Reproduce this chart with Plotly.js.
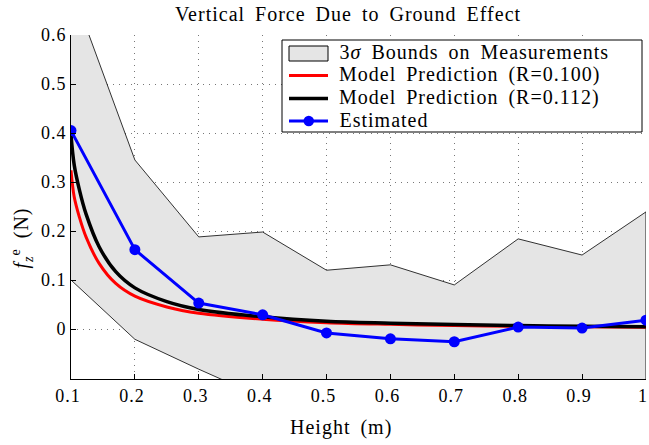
<!DOCTYPE html>
<html><head><meta charset="utf-8">
<script src="https://cdn.plot.ly/plotly-3.0.1.min.js"></script>
<style>
body{margin:0;background:#fff}
#plot{width:649px;height:445px}
#plot text{letter-spacing:1px;word-spacing:4px}
</style>
</head><body><div id="plot"></div>
<script>
const heights = [0.1,0.2,0.3,0.4,0.5,0.6,0.7,0.8,0.9,1.0];
const estimated = [0.405,0.162,0.053,0.029,-0.008,-0.020,-0.026,0.004,0.002,0.018];
const upperBound = [0.70,0.345,0.188,0.198,0.120,0.131,0.090,0.184,0.151,0.239];
const lowerBound = [0.10,-0.021,-0.082,-0.140,-0.136,-0.171,-0.142,-0.176,-0.147,-0.203];
const modelX = [0.1,0.105,0.113,0.1235,0.144,0.17,0.2,0.25,0.3,0.4,0.5,0.6,0.7,0.8,0.9,1.0];
const modelR100 = [0.324,0.270,0.229,0.188,0.134,0.093,0.067,0.045,0.032,0.020,0.013,0.0095,0.007,0.0055,0.0045,0.0037];
const modelR112 = [0.396,0.335,0.285,0.235,0.168,0.117,0.084,0.056,0.040,0.025,0.016,0.012,0.009,0.007,0.0055,0.0045];
const xTicks = [0.1,0.2,0.3,0.4,0.5,0.6,0.7,0.8,0.9,1.0];
const xTickText = ['0.1','0.2','0.3','0.4','0.5','0.6','0.7','0.8','0.9','1'];
const yTicks = [0,0.1,0.2,0.3,0.4,0.5,0.6];
const yTickText = ['0','0.1','0.2','0.3','0.4','0.5','0.6'];
const legendLabels = ['3<i>σ</i> Bounds on Measurements','Model Prediction (R=0.100)','Model Prediction (R=0.112)','Estimated'];

const FONT = '"Liberation Serif", "Times New Roman", serif';
const M = {l:71, r:3, t:35, b:66}, W = 649, H = 445;
const PW = W - M.l - M.r, PH = H - M.t - M.b;
const px = x => (x - M.l) / PW;      // pixel x -> paper x
const py = y => (H - M.b - y) / PH;  // pixel y -> paper y

const bandX = heights.concat(heights.slice().reverse());
const bandY = upperBound.concat(lowerBound.slice().reverse());

const traces = [
  {x: bandX, y: bandY, type:'scatter', mode:'lines', fill:'toself', fillcolor:'#e5e5e5',
   line:{color:'#000', width:0.8}, name:legendLabels[0], hoverinfo:'skip'},
  {x: modelX, y: modelR100, type:'scatter', mode:'lines', line:{color:'#ff0000', width:3, shape:'spline'},
   name:legendLabels[1]},
  {x: modelX, y: modelR112, type:'scatter', mode:'lines', line:{color:'#000000', width:3.5, shape:'spline'},
   name:legendLabels[2]},
  {x: heights, y: estimated, type:'scatter', mode:'lines+markers', line:{color:'#0000ff', width:3},
   marker:{color:'#0000ff', size:11}, name:legendLabels[3]}
];

// custom legend (box + swatches + labels)
const LX0 = 282, LX1 = 642, LY0 = 40, LY1 = 132;
const SW0 = 289, SW1 = 328, TXT = 337;
const rowY = [53.5, 75.5, 98.5, 121];
const shapes = [
  {type:'rect', xref:'paper', yref:'paper', x0:px(LX0), x1:px(LX1), y0:py(LY1), y1:py(LY0),
   fillcolor:'#fff', line:{color:'#000', width:1}, layer:'above'},
  {type:'rect', xref:'paper', yref:'paper', x0:px(SW0), x1:px(SW1), y0:py(rowY[0]+7.5), y1:py(rowY[0]-7.5),
   fillcolor:'#e5e5e5', line:{color:'#000', width:1}, layer:'above'},
  {type:'line', xref:'paper', yref:'paper', x0:px(SW0), x1:px(SW1), y0:py(rowY[1]), y1:py(rowY[1]),
   line:{color:'#ff0000', width:3}, layer:'above'},
  {type:'line', xref:'paper', yref:'paper', x0:px(SW0), x1:px(SW1), y0:py(rowY[2]), y1:py(rowY[2]),
   line:{color:'#000', width:3.5}, layer:'above'},
  {type:'line', xref:'paper', yref:'paper', x0:px(SW0), x1:px(SW1), y0:py(rowY[3]), y1:py(rowY[3]),
   line:{color:'#0000ff', width:3}, layer:'above'},
  {type:'circle', xref:'paper', yref:'paper', x0:px(303.5), x1:px(314), y0:py(rowY[3]+5.25), y1:py(rowY[3]-5.25),
   fillcolor:'#0000ff', line:{color:'#0000ff', width:0}, layer:'above'}
];
// letter/word spacing from the CSS is not included in Plotly's measured width; compensate
const spacingShift = t => {
  const plain = t.replace(/<[^>]+>/g, '');
  const spaces = (plain.match(/ /g) || []).length;
  return 0.5 * (plain.length * 1 + spaces * 4);
};
const annotations = legendLabels.map((t,i) => ({
  text:t, xref:'paper', yref:'paper', x:px(TXT), y:py(rowY[i]-1.5), xanchor:'left', yanchor:'middle',
  xshift:spacingShift(t), showarrow:false, font:{family:FONT, size:20, color:'#000'}
}));
annotations.push({text:'<i>f</i><sub><i>z</i></sub><sup>e</sup> (N)', xref:'paper', yref:'paper',
  x:px(22), y:py(238), textangle:-90, xanchor:'center', yanchor:'middle', showarrow:false,
  font:{family:FONT, size:20, color:'#000'}});
annotations.push({text:'Height (m)', xref:'paper', yref:'paper', x:px(341), y:py(427),
  xanchor:'center', yanchor:'middle', showarrow:false, font:{family:FONT, size:20, color:'#000'}});

const layout = {
  width:W, height:H, margin:M,
  paper_bgcolor:'#fff', plot_bgcolor:'#fff',
  font:{family:FONT, size:18, color:'#000'},
  title:{text:'Vertical Force Due to Ground Effect', font:{family:FONT, size:20, color:'#000'},
         xref:'paper', x:px(348), xanchor:'center', yref:'container', y:1-14/H, yanchor:'middle'},
  xaxis:{range:[0.1,1.0001], tickvals:xTicks, ticktext:xTickText, showgrid:true, gridcolor:'#777',
         griddash:'1px,5px', gridwidth:1, zeroline:false, showline:true, linecolor:'#000', linewidth:1,
         ticks:'inside', ticklen:5, tickcolor:'#000', tickfont:{size:18}, ticklabeloverflow:'allow',
         ticklabelshift:-3},
  yaxis:{range:[-0.102,0.6001], tickvals:yTicks, ticktext:yTickText, showgrid:true, gridcolor:'#777',
         griddash:'1px,5px', gridwidth:1, zeroline:false, showline:true, linecolor:'#000', linewidth:1,
         ticks:'inside', ticklen:5, tickcolor:'#000', tickfont:{size:18}, ticklabeloverflow:'allow'},
  showlegend:false,
  shapes:shapes, annotations:annotations
};
Plotly.newPlot('plot', traces, layout, {displayModeBar:false, staticPlot:true});
</script></body></html>
